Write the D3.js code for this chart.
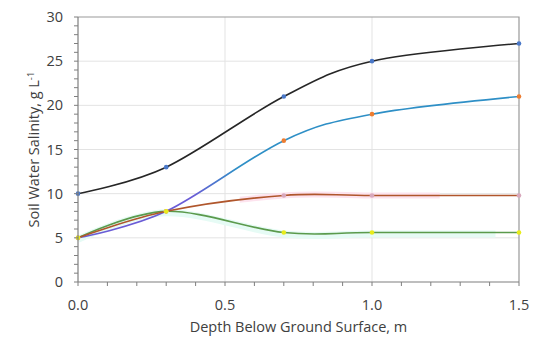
<!DOCTYPE html>
<html><head><meta charset="utf-8">
<script src="https://cdn.jsdelivr.net/npm/d3@7"></script>
<style>body{margin:0;background:#fff}svg{display:block}text{font-family:"Open Sans",sans-serif;fill:#404040}</style>
</head><body>
<svg id="c" width="550" height="343"></svg>
<script>
const depths = [0, 0.3, 0.7, 1.0, 1.5];
const seriesA = [10, 13, 21, 25, 27];
const seriesB = [5, 8, 16, 19, 21];
const seriesC = [5, 8, 9.8, 9.8, 9.8];
const seriesD = [5, 8, 5.6, 5.6, 5.6];
const xTicks = [0, 0.5, 1.0, 1.5];
const yTicks = [0, 5, 10, 15, 20, 25, 30];
const xTitle = "Depth Below Ground Surface, m";

const svg = d3.select("#c");
const L = 78, R = 519, T = 17, B = 282;
const x = d3.scaleLinear().domain([0, 1.5]).range([L, R]);
const y = d3.scaleLinear().domain([0, 30]).range([B, T]);

// gridlines
svg.append("g").selectAll("line").data(yTicks.filter(v => v > 0 && v < 30)).join("line")
  .attr("x1", L).attr("x2", R).attr("y1", d => y(d)).attr("y2", d => y(d))
  .attr("stroke", "#e3e3e3").attr("stroke-width", 1);
svg.append("g").selectAll("line").data(xTicks.filter(v => v > 0 && v < 1.5)).join("line")
  .attr("y1", T).attr("y2", B).attr("x1", d => x(d)).attr("x2", d => x(d))
  .attr("stroke", "#e3e3e3").attr("stroke-width", 1);
// top & right border
svg.append("path").attr("d", `M${L},${T}H${R}V${B}`).attr("fill", "none").attr("stroke", "#999").attr("stroke-width", 1.2);

const line = d3.line().x(d => x(d[0])).y(d => y(d[1])).curve(d3.curveCardinal.tension(0));
const pts = arr => depths.map((d, i) => [d, arr[i]]);

// glow bands
const defs = svg.append("defs");
defs.append("clipPath").attr("id", "clipPink").append("rect").attr("x", x(0.55)).attr("y", 0).attr("width", 200).attr("height", 343);
defs.append("clipPath").attr("id", "clipCyan").append("rect").attr("x", x(0)).attr("y", 0).attr("width", x(1.42) - x(0)).attr("height", 343);
const grad = defs.append("linearGradient").attr("id", "gB").attr("gradientUnits", "userSpaceOnUse")
  .attr("x1", x(0)).attr("x2", x(1.5)).attr("y1", 0).attr("y2", 0);
grad.append("stop").attr("offset", "0").attr("stop-color", "#6a5cd6");
grad.append("stop").attr("offset", "0.26").attr("stop-color", "#6a5cd6");
grad.append("stop").attr("offset", "0.36").attr("stop-color", "#2e8fc6");
grad.append("stop").attr("offset", "1").attr("stop-color", "#2e8fc6");

svg.append("path").datum(pts(seriesD).concat([[1.55, 5.6]])).attr("d", line).attr("clip-path", "url(#clipCyan)")
  .attr("fill", "none").attr("stroke", "#e6fbf5").attr("stroke-width", 7).attr("transform", "translate(0,1.5)");
svg.append("path").datum(pts(seriesC).concat([[1.55, 9.8]])).attr("d", line).attr("clip-path", "url(#clipPink)")
  .attr("fill", "none").attr("stroke", "#fde3ee").attr("stroke-width", 6);

// lines
svg.append("path").datum(pts(seriesA)).attr("d", line).attr("fill", "none").attr("stroke", "#262626").attr("stroke-width", 1.6);
svg.append("path").datum(pts(seriesB)).attr("d", line).attr("fill", "none").attr("stroke", "url(#gB)").attr("stroke-width", 1.6);
svg.append("path").datum(pts(seriesD)).attr("d", line).attr("fill", "none").attr("stroke", "#5b9a4c").attr("stroke-width", 1.6);
svg.append("path").datum(pts(seriesC)).attr("d", line).attr("fill", "none").attr("stroke", "#b0562c").attr("stroke-width", 1.6);

// markers
function markers(arr, color) {
  svg.append("g").selectAll("circle").data(pts(arr)).join("circle")
    .attr("cx", d => x(d[0])).attr("cy", d => y(d[1])).attr("r", 2.3).attr("fill", color);
}
markers(seriesA, "#4a78c8");
markers(seriesB, "#ed7d31");
markers(seriesC, "#d8a8bc");
markers(seriesD, "#e8ec1a");

// axes
const ax = svg.append("g");
ax.append("line").attr("x1", L).attr("x2", L).attr("y1", T).attr("y2", B).attr("stroke", "#7f7f7f").attr("stroke-width", 1.2);
ax.append("line").attr("x1", L).attr("x2", R).attr("y1", B).attr("y2", B).attr("stroke", "#7f7f7f").attr("stroke-width", 1.2);
const yMinor = d3.range(0, 31, 1);
ax.selectAll(".ym").data(yMinor).join("line").attr("x1", L - 4).attr("x2", L).attr("y1", d => y(d)).attr("y2", d => y(d)).attr("stroke", "#7f7f7f");
const xMinor = d3.range(0, 16, 1).map(v => v / 10);
ax.selectAll(".xm").data(xMinor).join("line").attr("y1", B).attr("y2", B + 4).attr("x1", d => x(d)).attr("x2", d => x(d)).attr("stroke", "#7f7f7f");

ax.selectAll(".yl").data(yTicks).join("text").attr("x", L - 15).attr("y", d => y(d)).attr("dy", "0.35em")
  .attr("text-anchor", "end").attr("font-size", 14.5).text(d => d);
ax.selectAll(".xl").data(xTicks).join("text").attr("x", d => x(d)).attr("y", 305).attr("dy", "0.35em")
  .attr("text-anchor", "middle").attr("font-size", 14.5).text(d => d.toFixed(1));

svg.append("text").attr("x", (L + R) / 2).attr("y", 327).attr("dy", "0.35em").attr("text-anchor", "middle")
  .attr("font-size", 14.5).text(xTitle);
const yt = svg.append("text").attr("transform", `translate(34,${(T + B) / 2}) rotate(-90)`).attr("dy", "0.35em")
  .attr("text-anchor", "middle").attr("font-size", 14.5);
yt.append("tspan").text("Soil Water Salinity, g L");
yt.append("tspan").attr("font-size", 9.5).attr("dy", "-5").text("-1");
</script>
</body></html>
